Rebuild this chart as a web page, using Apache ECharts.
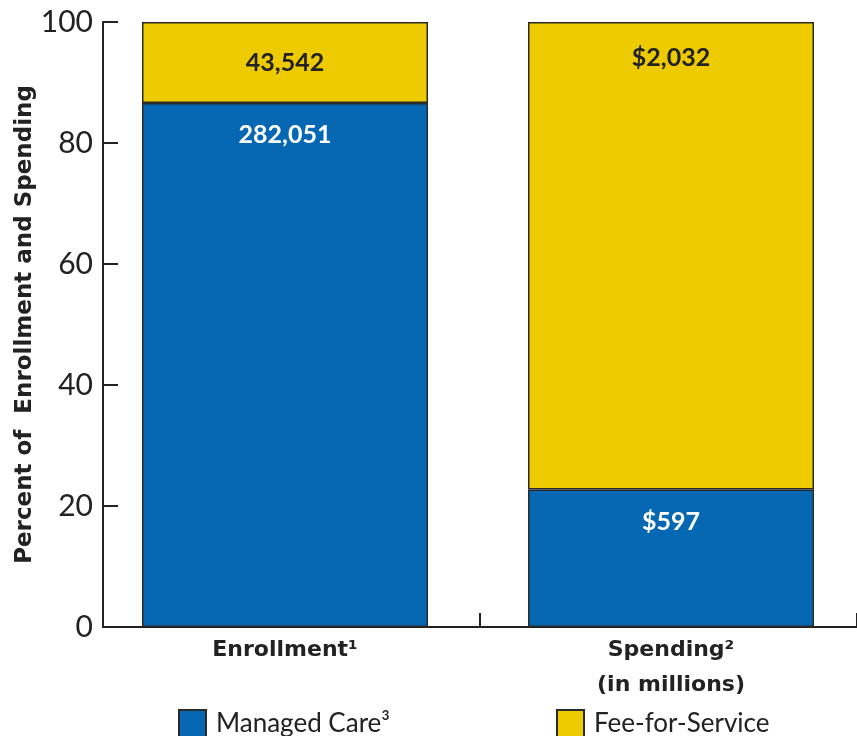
<!DOCTYPE html>
<html>
<head>
<meta charset="utf-8">
<script src="https://cdn.jsdelivr.net/npm/echarts@6/dist/echarts.min.js"></script>
<style>
  html, body { margin: 0; padding: 0; background: #fff; }
  #chart { width: 857px; height: 736px; }
</style>
</head>
<body>
<div id="chart"></div>
<script>
// categories and raw values
var categories = ['Enrollment\u00b9', 'Spending\u00b2\n(in millions)'];
var managedCare = [282051, 597];
var feeForService = [43542, 2032];
var valueLabelsManaged = ['282,051', '$597'];
var valueLabelsFFS = ['43,542', '$2,032'];
var yTicks = [0, 20, 40, 60, 80, 100];

var BLUE = '#0668b3';
var YELLOW = '#eeca00';
var FONT = 'Lato, "Open Sans", sans-serif';
var WIDE_BOLD = '"DejaVu Sans", sans-serif';

function pct(a, b) {
    return categories.map(function(c, i) { return a[i] / (a[i] + b[i]) * 100; });
}
var managedPct = pct(managedCare, feeForService);
var ffsPct = pct(feeForService, managedCare);

var myChart = echarts.init(document.getElementById('chart'));

var legendText = { fontFamily: FONT, fontSize: 26, color: '#222', padding: [0, 0, 0, 5] };

var option = {
    animation: false,
    textStyle: { fontFamily: FONT },
    // grid 0 holds the bars, grid 1 draws the visible frame
    grid: [
        { left: 92, width: 772, top: 22, bottom: 109, outerBoundsMode: 'none' },
        { left: 103, right: 0, top: 22, bottom: 109, outerBoundsMode: 'none' }
    ],
    legend: [{
        data: ['Managed Care\u00b3'],
        left: 173, top: 704,
        itemWidth: 27, itemHeight: 27,
        icon: 'rect',
        textStyle: legendText
    }, {
        data: ['Fee-for-Service'],
        left: 551, top: 704,
        itemWidth: 27, itemHeight: 27,
        icon: 'rect',
        textStyle: legendText
    }],
    xAxis: [{
        type: 'category',
        gridIndex: 0,
        data: categories,
        axisLine: { show: false },
        axisTick: { show: false },
        axisLabel: {
            margin: 6, fontFamily: WIDE_BOLD, fontSize: 22, fontWeight: 'bold',
            color: '#222', lineHeight: 35
        }
    }, {
        type: 'category',
        gridIndex: 1,
        data: categories,
        axisLine: { lineStyle: { color: '#222', width: 2 } },
        axisTick: { show: true, inside: true, length: 14, lineStyle: { color: '#222', width: 2 } },
        axisLabel: { show: false }
    }],
    yAxis: [{
        type: 'value',
        gridIndex: 0,
        min: 0, max: 100, interval: 20,
        show: false
    }, {
        type: 'value',
        gridIndex: 1,
        min: 0, max: 100, interval: 20,
        name: 'Percent of  Enrollment and Spending',
        nameLocation: 'middle',
        nameGap: 66,
        nameMoveOverlap: false,
        nameTextStyle: { fontFamily: WIDE_BOLD, fontSize: 23, fontWeight: 'bold', color: '#222' },
        splitLine: { show: false },
        axisLine: { show: true, lineStyle: { color: '#222', width: 2 } },
        axisTick: { show: true, inside: true, length: 15, lineStyle: { color: '#222', width: 2 } },
        axisLabel: {
            margin: 10, fontFamily: FONT, fontSize: 30, color: '#222',
            formatter: function(v) { return yTicks.indexOf(v) >= 0 ? String(v) : ''; }
        }
    }],
    series: [{
        name: 'Managed Care\u00b3',
        type: 'bar',
        stack: 'total',
        xAxisIndex: 0, yAxisIndex: 0,
        barWidth: 286,
        itemStyle: { color: BLUE, borderColor: '#2a2a2a', borderWidth: 1.5 },
        label: {
            show: true, position: 'insideTop', distance: 20,
            fontFamily: FONT, fontSize: 25, fontWeight: 'bold', color: '#fff',
            formatter: function(p) { return valueLabelsManaged[p.dataIndex]; }
        },
        data: managedPct
    }, {
        name: 'Fee-for-Service',
        type: 'bar',
        stack: 'total',
        xAxisIndex: 0, yAxisIndex: 0,
        barWidth: 286,
        itemStyle: { color: YELLOW, borderColor: '#2a2a2a', borderWidth: 1.5 },
        label: {
            show: true, position: 'insideTop', distance: 23,
            fontFamily: FONT, fontSize: 25, fontWeight: 'bold', color: '#222',
            formatter: function(p) { return valueLabelsFFS[p.dataIndex]; }
        },
        data: ffsPct.map(function(v, i) {
            return i === 0 ? { value: v, label: { position: 'inside' } } : v;
        })
    }]
};

myChart.setOption(option);
</script>
</body>
</html>
